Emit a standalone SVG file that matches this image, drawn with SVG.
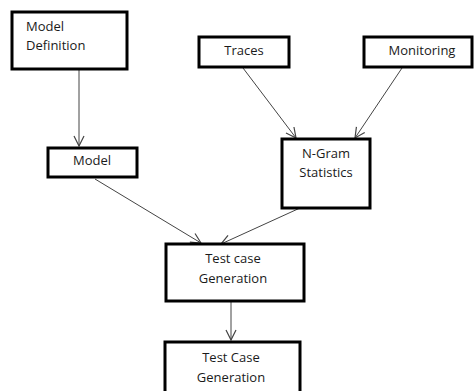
<svg xmlns="http://www.w3.org/2000/svg" width="476" height="391" viewBox="0 0 476 391">
<defs>
<style>
.box{fill:#fff;stroke:#000;stroke-width:3}
.t{font-family:"Open Sans","Liberation Sans",sans-serif;font-size:13px;fill:#1a1a1a}
.c{text-anchor:middle}
.e{stroke:#444;stroke-width:1;fill:none}
</style>
<marker id="ah" viewBox="0 0 12 12" refX="11" refY="6" markerWidth="12" markerHeight="12" markerUnits="userSpaceOnUse" orient="auto">
<path d="M1,1 L11,6 L1,11" fill="none" stroke="#444" stroke-width="1.2"/>
</marker>
</defs>
<rect width="476" height="391" fill="#fff"/>
<g id="connectors">
<line class="e" x1="79" y1="70" x2="79" y2="146" marker-end="url(#ah)"/>
<line class="e" x1="243" y1="68" x2="296" y2="138" marker-end="url(#ah)"/>
<line class="e" x1="402" y1="68" x2="355" y2="138" marker-end="url(#ah)"/>
<line class="e" x1="95" y1="179" x2="201" y2="243" marker-end="url(#ah)"/>
<line class="e" x1="300" y1="208" x2="221" y2="244" marker-end="url(#ah)"/>
<line class="e" x1="231" y1="301" x2="231" y2="340" marker-end="url(#ah)"/>
</g>
<g id="model-definition">
<rect class="box" x="12" y="12" width="115" height="57"/>
<text class="t" x="26" y="31">Model</text>
<text class="t" x="26" y="50">Definition</text>
</g>
<g id="traces">
<rect class="box" x="199" y="37" width="90" height="30"/>
<text class="t c" x="244" y="55">Traces</text>
</g>
<g id="monitoring">
<rect class="box" x="364" y="37" width="108" height="30"/>
<text class="t c" x="422" y="55">Monitoring</text>
</g>
<g id="model">
<rect class="box" x="48" y="148" width="89" height="29"/>
<text class="t c" x="92" y="165">Model</text>
</g>
<g id="ngram">
<rect class="box" x="282" y="139" width="88" height="69"/>
<text class="t c" x="326" y="158">N-Gram</text>
<text class="t c" x="326" y="177">Statistics</text>
</g>
<g id="test-case-generation">
<rect class="box" x="166" y="244" width="138" height="57"/>
<text class="t c" x="233" y="263">Test case</text>
<text class="t c" x="233" y="283">Generation</text>
</g>
<g id="test-case-generation-2">
<rect class="box" x="165" y="342" width="135" height="60"/>
<text class="t c" x="231" y="362">Test Case</text>
<text class="t c" x="231" y="382">Generation</text>
</g>
</svg>
